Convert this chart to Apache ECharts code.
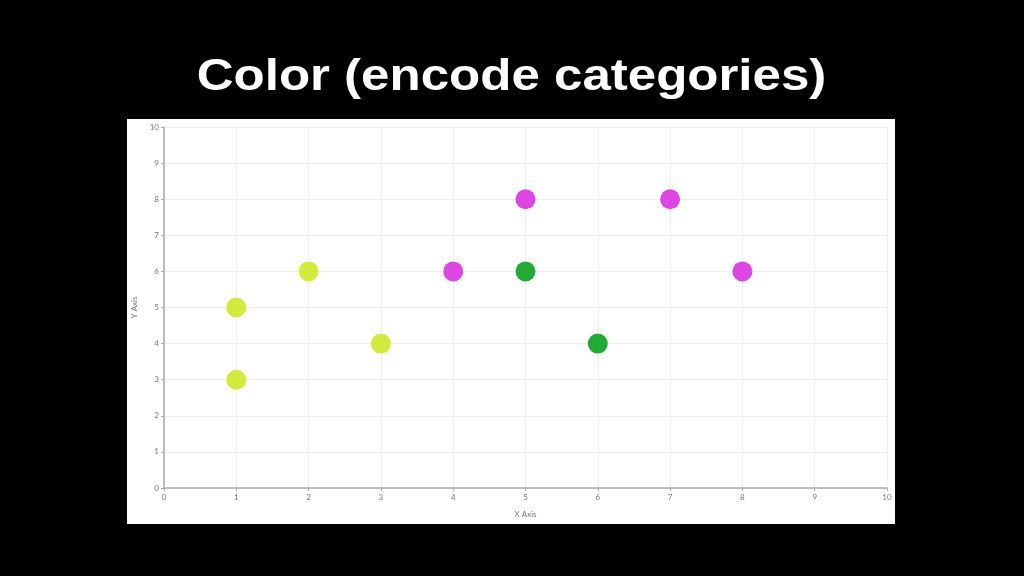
<!DOCTYPE html>
<html><head><meta charset="utf-8">
<script src="https://cdn.jsdelivr.net/npm/echarts@6/dist/echarts.min.js"></script>
<style>html,body{margin:0;padding:0;background:#000;}#c{width:1024px;height:576px;}</style>
</head><body><div id="c"></div>
<script>
const titleText = "Color (encode categories)";
const xAxisName = "X Axis";
const yAxisName = "Y Axis";
const groupA = [[1,5],[1,3],[2,6],[3,4]];
const groupB = [[4,6],[5,8],[7,8],[8,6]];
const groupC = [[5,6],[6,4]];
const groupColors = ["#d3ea3c", "#dd45e4", "#22aa35"];

const chart = echarts.init(document.getElementById('c'), null, {renderer:'canvas'});
const axisCommon = {
  type: 'value', min: 0, max: 10, interval: 1,
  nameLocation: 'middle',
  nameTextStyle: {color: '#777', fontSize: 8, fontFamily: 'Lato'},
  axisLine: {show: true, lineStyle: {color: '#aaa', width: 1.5}},
  axisTick: {show: true, length: 3, lineStyle: {color: '#aaa'}},
  axisLabel: {color: '#777', fontSize: 8, fontFamily: 'Lato', margin: 5},
  splitLine: {show: true, lineStyle: {color: '#eeeeee', width: 1}}
};
chart.setOption({
  backgroundColor: '#000',
  animation: false,
  graphic: [
    {type: 'rect', z: -10, shape: {x: 127, y: 119, width: 768, height: 405}, style: {fill: '#fff'}},
    {type: 'text', x: 511.5, y: 78, scaleX: 1.16,
      style: {text: titleText, fill: '#fff', font: 'bold 44px "Liberation Sans"', align: 'center', verticalAlign: 'middle'}}
  ],
  grid: {left: 164, top: 127, width: 723, height: 361},
  xAxis: Object.assign({}, axisCommon, {name: xAxisName, nameGap: 22}),
  yAxis: Object.assign({}, axisCommon, {name: yAxisName, nameGap: 22}),
  series: [groupA, groupB, groupC].map((d, i) => ({
    type: 'scatter', data: d, symbolSize: 20,
    itemStyle: {color: groupColors[i], opacity: 1}
  }))
});
</script></body></html>
